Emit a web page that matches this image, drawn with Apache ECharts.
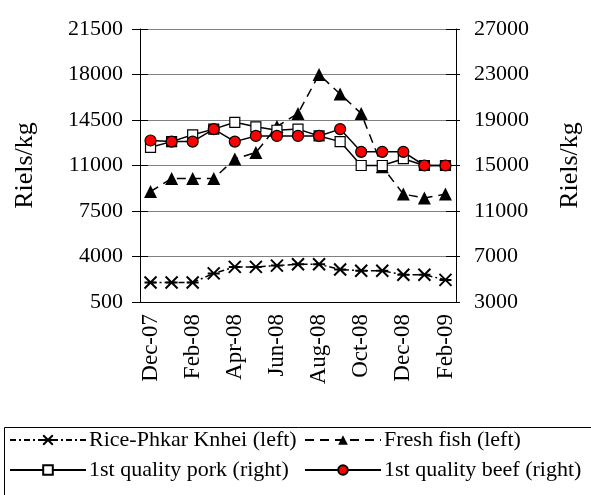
<!DOCTYPE html>
<html>
<head>
<meta charset="utf-8">
<script src="https://cdn.jsdelivr.net/npm/echarts@6/dist/echarts.min.js"></script>
<style>
html, body { margin: 0; padding: 0; background: #fff; }
#chart { width: 591px; height: 495px; }
</style>
</head>
<body>
<div id="chart"></div>
<script>
// monthly prices, Riels/kg
const months = ['Dec-07', 'Jan-08', 'Feb-08', 'Mar-08', 'Apr-08', 'May-08', 'Jun-08', 'Jul-08',
  'Aug-08', 'Sep-08', 'Oct-08', 'Nov-08', 'Dec-08', 'Jan-09', 'Feb-09'];
const rice = [2000, 2000, 2000, 2700, 3200, 3200, 3300, 3400, 3400, 3000, 2900, 2900, 2600, 2600, 2200];
const fish = [9000, 10000, 10000, 10000, 11500, 12000, 14000, 15000, 18000, 16500, 15000, 10900, 8800, 8500, 8800];
const pork = [16600, 17100, 17700, 18200, 18800, 18400, 18100, 18200, 17600, 17100, 15000, 15000, 15600, 15000, 15000];
const beef = [17200, 17100, 17100, 18200, 17100, 17600, 17600, 17600, 17600, 18200, 16200, 16200, 16200, 15000, 15000];
const leftTicks = [500, 4000, 7500, 11000, 14500, 18000, 21500];
const rightTicks = [3000, 7000, 11000, 15000, 19000, 23000, 27000];

const font = "'Liberation Serif', 'DejaVu Serif', serif";
const starPath = 'path://M0,0L10,10M10,0L0,10M0,5L10,5';

const chart = echarts.init(document.getElementById('chart'));

// extra axes just to draw the inner half of the crossing ticks
const innerTicks = (pos, ticks, len) => ({
  type: 'value', position: pos,
  min: ticks[0], max: ticks[ticks.length - 1],
  axisLine: { show: false },
  axisTick: { show: true, inside: true, length: len, customValues: ticks, lineStyle: { color: '#000' } },
  axisLabel: { show: false },
  splitLine: { show: false }
});

chart.setOption({
  animation: false,
  textStyle: { fontFamily: font, color: '#000' },
  grid: { left: 140, right: 130, top: 29, bottom: 193 },
  xAxis: {
    type: 'category',
    data: months,
    boundaryGap: true,
    axisLine: { lineStyle: { color: '#000', width: 1 } },
    axisTick: { interval: 1, length: 7, lineStyle: { color: '#000' } },
    axisLabel: { interval: 1, rotate: 90, margin: 12, fontSize: 23, fontFamily: font, color: '#000' }
  },
  yAxis: [
    {
      type: 'value', position: 'left',
      min: leftTicks[0], max: leftTicks[leftTicks.length - 1],
      name: 'Riels/kg', nameLocation: 'middle', nameGap: 102, nameRotate: 90,
      nameTextStyle: { fontSize: 26, fontFamily: font, color: '#000' },
      axisLine: { show: true, lineStyle: { color: '#000', width: 1 } },
      axisTick: { show: true, length: 8, customValues: leftTicks, lineStyle: { color: '#000' } },
      axisLabel: { margin: 17, fontSize: 22, fontFamily: font, color: '#000', customValues: leftTicks, formatter: v => String(v) },
      splitLine: { show: true, lineStyle: { color: '#808080', width: 1 } }
    },
    {
      type: 'value', position: 'right',
      min: rightTicks[0], max: rightTicks[rightTicks.length - 1],
      name: 'Riels/kg', nameLocation: 'middle', nameGap: 101, nameRotate: 90,
      nameTextStyle: { fontSize: 26, fontFamily: font, color: '#000' },
      axisLine: { show: true, lineStyle: { color: '#000', width: 1 } },
      axisTick: { show: true, length: 4, customValues: rightTicks, lineStyle: { color: '#000' } },
      axisLabel: { margin: 18, fontSize: 22, fontFamily: font, color: '#000', customValues: rightTicks, formatter: v => String(v) },
      splitLine: { show: false }
    },
    innerTicks('left', leftTicks, 8),
    innerTicks('right', rightTicks, 10)
  ],
  legend: [
    {
      data: ['Rice-Phkar Knhei (left)', '1st quality pork (right)'],
      orient: 'vertical', left: 9, top: 429, padding: 0,
      itemWidth: 76, itemHeight: 12, itemGap: 8,
      textStyle: { fontSize: 22, fontFamily: font, color: '#000', lineHeight: 22, padding: [0, 0, 0, -2] }
    },
    {
      data: ['Fresh fish (left)', '1st quality beef (right)'],
      orient: 'vertical', left: 304, top: 429, padding: 0,
      itemWidth: 76, itemHeight: 12, itemGap: 8,
      textStyle: { fontSize: 22, fontFamily: font, color: '#000', lineHeight: 22, padding: [0, 0, 0, -2] }
    }
  ],
  graphic: [
    {
      type: 'rect', left: 2, top: 425,
      shape: { width: 620, height: 100 },
      style: { fill: 'none', stroke: '#000', lineWidth: 1 },
      silent: true
    }
  ],
  series: [
    {
      name: 'Rice-Phkar Knhei (left)', type: 'line', yAxisIndex: 0, data: rice,
      symbol: starPath, symbolSize: 12,
      lineStyle: { color: '#000', width: 1.5, type: [6, 3, 2, 3] },
      itemStyle: { color: 'rgba(0,0,0,0)', borderColor: '#000', borderWidth: 2 }
    },
    {
      name: 'Fresh fish (left)', type: 'line', yAxisIndex: 0, data: fish,
      symbol: 'triangle', symbolSize: 13,
      lineStyle: { color: '#000', width: 1.5, type: [9, 6] },
      itemStyle: { color: '#000' }
    },
    {
      name: '1st quality pork (right)', type: 'line', yAxisIndex: 1, data: pork,
      symbol: 'rect', symbolSize: 10,
      lineStyle: { color: '#000', width: 1.5 },
      itemStyle: { color: '#fff', borderColor: '#000', borderWidth: 1.2 }
    },
    {
      name: '1st quality beef (right)', type: 'line', yAxisIndex: 1, data: beef,
      symbol: 'circle', symbolSize: 11,
      lineStyle: { color: '#000', width: 1.5 },
      itemStyle: { color: '#ff0000', borderColor: '#000', borderWidth: 1.2 }
    }
  ]
});
</script>
</body>
</html>
